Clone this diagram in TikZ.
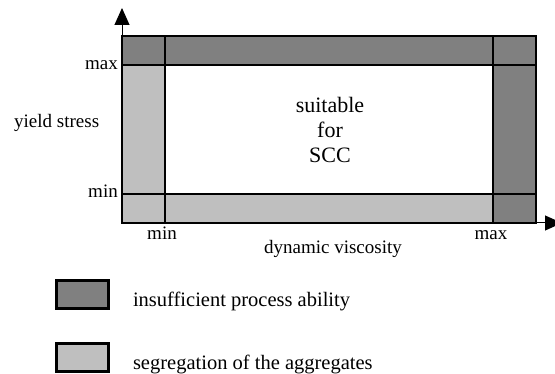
\documentclass[tikz,border=0pt]{standalone}
\usepackage{fontspec}
\setmainfont{Liberation Serif}
\usetikzlibrary{positioning, arrows.meta}
\definecolor{darkband}{gray}{0.5}
\definecolor{lightband}{gray}{0.75}

\begin{document}
\begin{tikzpicture}[x=1pt,y=-1pt,>={Triangle[width=15pt,length=17pt]},font=\fontsize{19}{22}\selectfont]
    \tikzstyle{grid}=[line width=2.2pt,draw=black]
    \tikzstyle{lbl}=[inner sep=0pt]
    \tikzstyle{legendbox}=[line width=2.6pt,draw=black,minimum width=52pt,minimum height=28pt,inner sep=0pt]
    \tikzstyle{legendtext}=[inner sep=0pt,anchor=base west,yshift=-6.5pt,font=\fontsize{20.5}{24}\selectfont]

    \useasboundingbox (0,0) rectangle (555,374);

    % bands around the window
    \fill[lightband] (122,65) rectangle (165,223);
    \fill[lightband] (122,194) rectangle (493,223);
    \fill[darkband] (122,36) rectangle (536,65);
    \fill[darkband] (493,65) rectangle (536,223);

    % frame and limits
    \draw[grid] (122,36) rectangle (536,223);
    \draw[grid] (165,36) -- (165,223);
    \draw[grid] (493,36) -- (493,223);
    \draw[grid] (122,65) -- (536,65);
    \draw[grid] (122,194) -- (536,194);

    % axes
    \coordinate (ytop) at (122,36);
    \coordinate (ytip) at (122,8);
    \coordinate (xend) at (536,223);
    \coordinate (xtip) at (562,223);
    \draw[->,line width=1pt] (ytop) -- (ytip);
    \draw[->,line width=1pt] (xend) -- (xtip);

    \node[lbl,anchor=base east] (ymax) at (118,70) {max};
    \node[lbl,anchor=base east] (ymin) at (118,198) {min};
    \node[lbl,anchor=base west] (ylab) at (14,128) {yield stress};
    \node[lbl,anchor=base] (xmin) at (162,240) {min};
    \node[lbl,anchor=base] (xmax) at (491,240) {max};
    \node[lbl,anchor=base] (xlab) at (333,254) {dynamic viscosity};

    % base of a multi-line node is its last line
    \node[align=center,font=\fontsize{22}{25}\selectfont,anchor=base,inner sep=0pt] (scc) at (330,163) {suitable\\for\\SCC};

    % legend
    \node[legendbox,fill=darkband] (lb1) at (82.5,294.5) {};
    \node[legendbox,fill=lightband] (lb2) at (82.5,357.5) {};
    \node[legendtext,right=23pt of lb1] (lt1) {insufficient process ability};
    \node[legendtext,right=23pt of lb2] (lt2) {segregation of the aggregates};
\end{tikzpicture}
\end{document}
